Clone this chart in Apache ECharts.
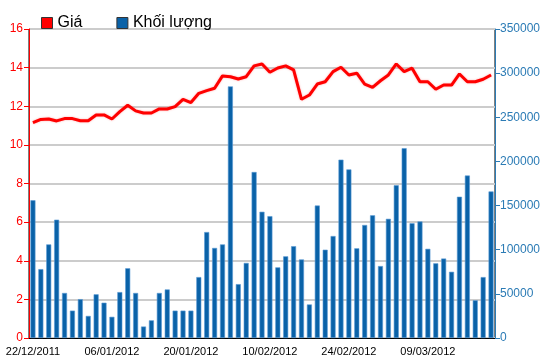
<!DOCTYPE html>
<html><head><meta charset="utf-8">
<script src="https://cdn.jsdelivr.net/npm/echarts@6/dist/echarts.min.js"></script>
<style>html,body{margin:0;padding:0;background:#fff}#c{width:550px;height:364px}</style>
</head><body><div id="c"></div>
<script>
var dates = ["22/12/2011","23/12/2011","26/12/2011","27/12/2011","28/12/2011","29/12/2011","30/12/2011",
"03/01/2012","04/01/2012","05/01/2012","06/01/2012","09/01/2012","10/01/2012","11/01/2012","12/01/2012","13/01/2012",
"16/01/2012","17/01/2012","18/01/2012","19/01/2012","20/01/2012","30/01/2012","31/01/2012","01/02/2012","02/02/2012",
"03/02/2012","06/02/2012","07/02/2012","08/02/2012","09/02/2012","10/02/2012","13/02/2012","14/02/2012","15/02/2012",
"16/02/2012","17/02/2012","20/02/2012","21/02/2012","22/02/2012","23/02/2012","24/02/2012","27/02/2012","28/02/2012",
"29/02/2012","01/03/2012","02/03/2012","05/03/2012","06/03/2012","07/03/2012","08/03/2012","09/03/2012","12/03/2012",
"13/03/2012","14/03/2012","15/03/2012","16/03/2012","19/03/2012","20/03/2012","21/03/2012"];
var price = [11.15,11.32,11.34,11.24,11.36,11.36,11.25,11.25,11.55,11.55,11.34,11.72,12.05,11.76,11.65,11.65,11.86,11.86,11.98,12.36,
12.19,12.67,12.81,12.93,13.57,13.53,13.41,13.53,14.09,14.19,13.76,13.98,14.09,13.88,12.36,12.58,13.15,13.27,13.79,14.02,
13.62,13.71,13.15,12.98,13.32,13.62,14.19,13.79,13.97,13.27,13.27,12.88,13.10,13.10,13.67,13.27,13.27,13.40,13.62];
var volume = [156000,78000,106000,134000,51000,31000,44000,25000,49500,40000,24000,52000,79000,51000,13000,20000,51000,55000,31000,31000,
31000,69000,120000,102000,106000,285000,61000,85000,188000,143000,138000,80000,92500,104000,89000,38000,150000,100000,115500,202000,
191000,101600,128000,139000,81500,135000,173000,215000,130000,132000,101000,84600,90000,75000,160000,184000,42700,69000,166000];
var seriesNames = ["Giá","Khối lượng"];
var leftTicks = {min:0,max:16,interval:2};
var rightTicks = {min:0,max:350000,interval:50000};

var chart = echarts.init(document.getElementById('c'), null, {renderer:'canvas'});
var FONT = 'Liberation Sans, Arial, sans-serif';
chart.setOption({
  animation:false,
  textStyle:{fontFamily:FONT},
  legend:{
    left:36, top:10, itemWidth:11, itemHeight:11, itemGap:34,
    textStyle:{fontSize:16,color:'#000',fontFamily:FONT},
    data:[
      {name:seriesNames[0], icon:'rect', itemStyle:{color:'#ff0000',borderColor:'#333',borderWidth:1}},
      {name:seriesNames[1], icon:'rect', itemStyle:{color:'#0a62a8',borderColor:'#333',borderWidth:1}}
    ]
  },
  grid:{left:29,right:55,top:29,bottom:26,show:true,borderColor:'#000',borderWidth:1,backgroundColor:'transparent'},
  xAxis:{
    type:'category', data:dates, boundaryGap:true,
    axisLine:{lineStyle:{color:'#000',width:1}},
    axisTick:{alignWithLabel:true,length:5,interval:function(i){return i%10===0;},lineStyle:{color:'#000'}},
    axisLabel:{interval:function(i){return i%10===0;},fontSize:11,color:'#000',margin:8,fontFamily:FONT}
  },
  yAxis:[
    {type:'value',position:'left',min:leftTicks.min,max:leftTicks.max,interval:leftTicks.interval,
     axisLine:{show:true,lineStyle:{color:'#ff0000',width:1}},
     axisTick:{show:true,length:5,lineStyle:{color:'#ff0000'}},
     axisLabel:{color:'#ff0000',fontSize:12,margin:6,fontFamily:FONT},
     splitLine:{show:true,lineStyle:{color:'#cccccc',width:2}}},
    {type:'value',position:'right',min:rightTicks.min,max:rightTicks.max,interval:rightTicks.interval,
     axisLine:{show:true,lineStyle:{color:'#2b7bb5',width:1}},
     axisTick:{show:true,length:5,lineStyle:{color:'#2b7bb5'}},
     axisLabel:{color:'#2b7bb5',fontSize:12,margin:5,fontFamily:FONT,formatter:function(v){return String(v);}},
     splitLine:{show:false}}
  ],
  series:[
    {name:seriesNames[1],type:'bar',yAxisIndex:1,data:volume,barWidth:5,
     itemStyle:{color:'#0a62a8',borderColor:'#5b9bd5',borderWidth:0.6},z:2},
    {name:seriesNames[0],type:'line',yAxisIndex:0,data:price,symbol:'none',smooth:false,
     lineStyle:{color:'#ff0000',width:3,shadowColor:'rgba(255,80,80,0.5)',shadowBlur:2},
     itemStyle:{color:'#ff0000'},z:3}
  ]
});
</script></body></html>
